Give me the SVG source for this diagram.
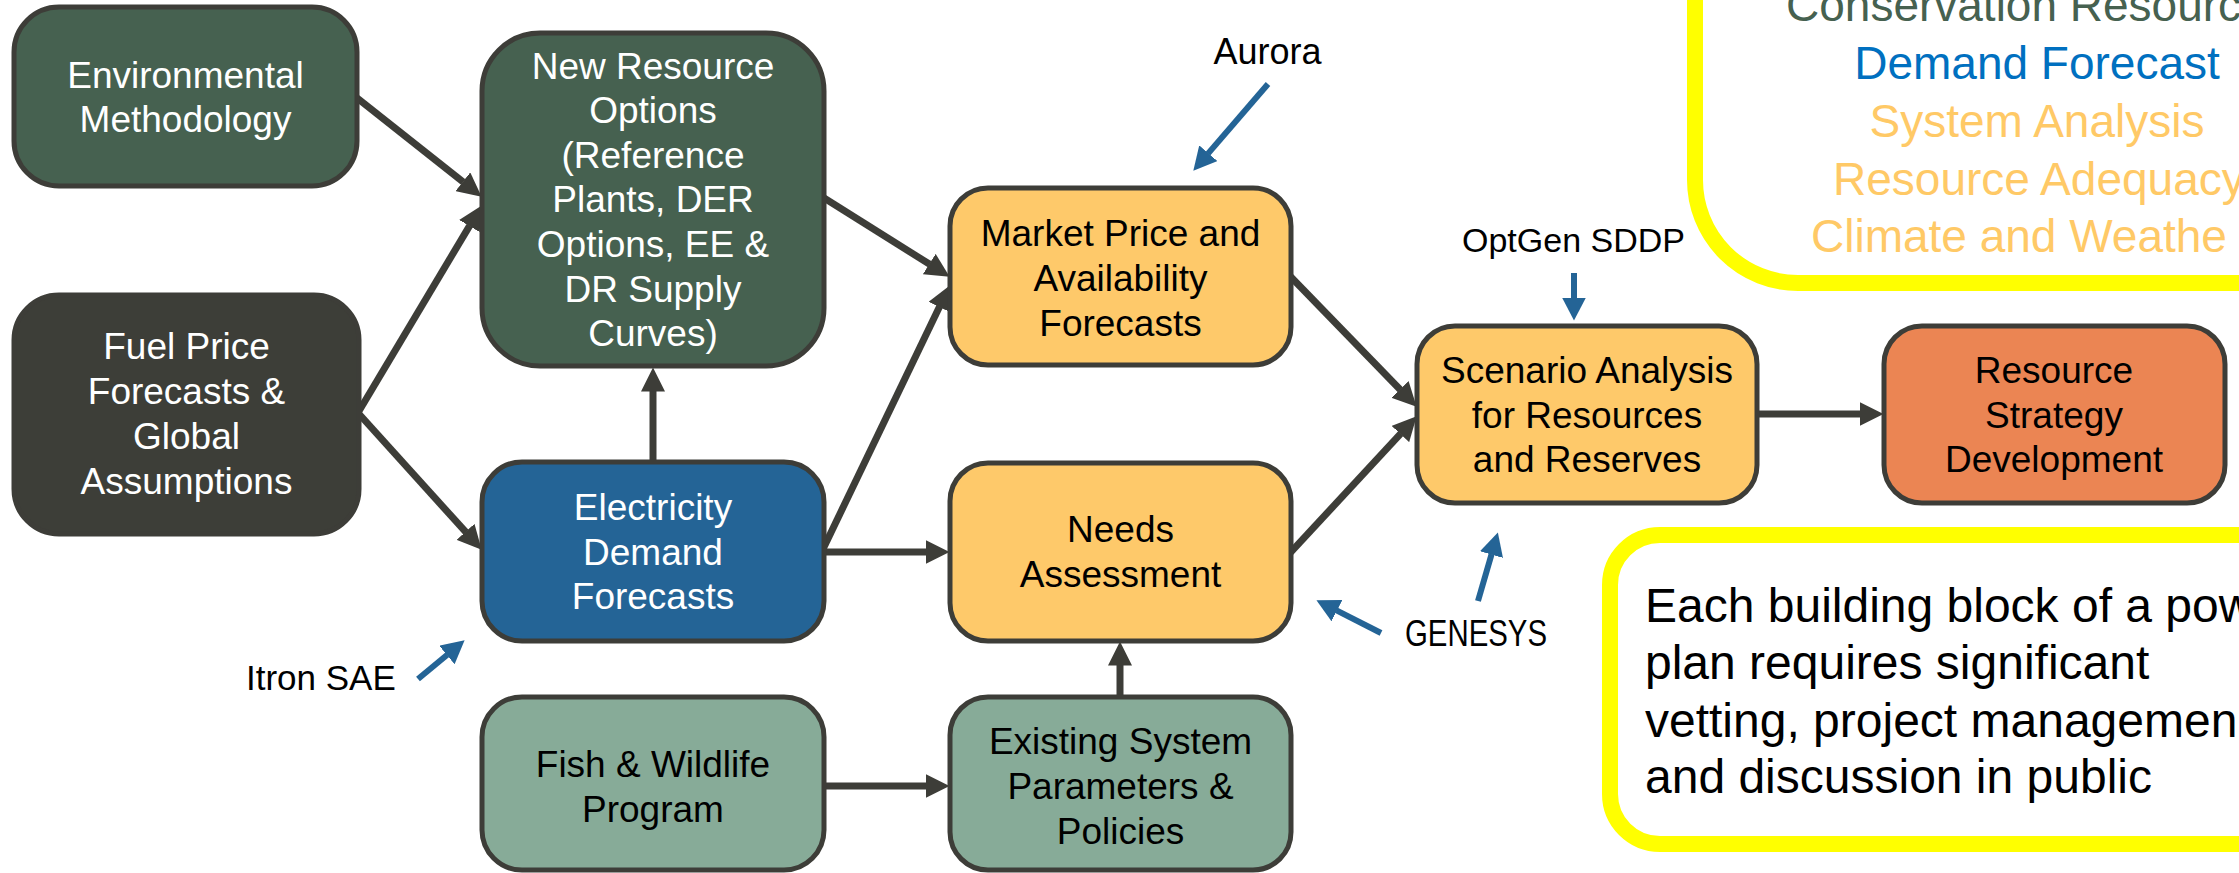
<svg xmlns="http://www.w3.org/2000/svg" width="2239" height="873" viewBox="0 0 2239 873">
<style>
.node rect{stroke:#3d3d38;stroke-width:5}
.t{font-family:'Liberation Sans',Arial,sans-serif;font-size:37px;text-anchor:middle}
.w{fill:#ffffff}
.k{fill:#000000}
.conn line{stroke:#3d3d38;stroke-width:7;marker-end:url(#ah)}
.tool line{stroke:#246496;stroke-width:6;marker-end:url(#bh)}
.lbl{font-family:'Liberation Sans',Arial,sans-serif;font-size:36px;fill:#000000}
.hl{fill:#ffffff;stroke:#ffff00;stroke-width:16}
.big{font-family:'Liberation Sans',Arial,sans-serif;font-size:46px}
.note{font-family:'Liberation Sans',Arial,sans-serif;font-size:48px;fill:#000000}
</style>
<defs>
<marker id="ah" markerUnits="userSpaceOnUse" viewBox="0 0 24 24" markerWidth="24" markerHeight="24" refX="0.5" refY="12" orient="auto">
<path d="M0,0 L24,12 L0,24 z" fill="#3d3d38"/>
</marker>
<marker id="bh" markerUnits="userSpaceOnUse" viewBox="0 0 23 24" markerWidth="23" markerHeight="24" refX="0.5" refY="12" orient="auto">
<path d="M0,0 L23,12 L0,24 z" fill="#246496"/>
</marker>
</defs>
<rect x="0" y="0" width="2239" height="873" fill="#ffffff"/>

<g id="legend-box">
<rect class="hl" x="1695" y="-400" width="700" height="683" rx="103"/>
<text class="big" x="1786" y="21" fill="#466150">Conservation Resourc</text>
<text class="big" x="2037" y="79" fill="#0070c0" text-anchor="middle">Demand Forecast</text>
<text class="big" x="2037" y="137" fill="#ffc966" text-anchor="middle">System Analysis</text>
<text class="big" x="1833" y="195" fill="#ffc966">Resource Adequacy</text>
<text class="big" x="1811" y="252" fill="#ffc966">Climate and Weathe</text>
</g>

<g id="note-box">
<rect class="hl" x="1610" y="535" width="700" height="309" rx="50"/>
<text class="note" x="1645" y="622">Each building block of a pow</text>
<text class="note" x="1645" y="679">plan requires significant</text>
<text class="note" x="1645" y="737">vetting, project managemen</text>
<text class="note" x="1645" y="793">and discussion in public</text>
</g>

<g id="connectors">
<g class="conn">
<line x1="352.3" y1="94.3" x2="463.2" y2="182.1"/>
<line x1="355.9" y1="416.2" x2="469.7" y2="225.6"/>
<line x1="355" y1="409.5" x2="465.9" y2="532.2"/>
<line x1="653" y1="468" x2="653" y2="391"/>
<line x1="818.9" y1="194.8" x2="929.7" y2="264.3"/>
<line x1="821.4" y1="552.4" x2="939.6" y2="306.6"/>
<line x1="818" y1="552" x2="926" y2="552"/>
<line x1="818" y1="786" x2="926" y2="786"/>
<line x1="1120" y1="703" x2="1120" y2="665"/>
<line x1="1286.8" y1="272.7" x2="1400.3" y2="389.8"/>
<line x1="1286.9" y1="556.4" x2="1400.7" y2="433.6"/>
<line x1="1751" y1="414" x2="1860" y2="414"/>
</g>
<g class="tool">
<line x1="1268" y1="84" x2="1208" y2="153.6"/>
<line x1="1574" y1="273" x2="1574" y2="298"/>
<line x1="418" y1="679" x2="447.3" y2="654.7"/>
<line x1="1381" y1="633" x2="1336.5" y2="610.4"/>
<line x1="1478" y1="601" x2="1491.6" y2="554.1"/>
</g>
</g>

<g id="env" class="node">
<rect x="14" y="7" width="343" height="179" rx="45" fill="#466150"/>
<text class="t w" x="185.5" y="87.5">Environmental</text>
<text class="t w" x="185.5" y="132">Methodology</text>
</g>
<g id="fuel" class="node">
<rect x="14" y="295" width="345" height="239" rx="45" fill="#3d3e38"/>
<text class="t w" x="186.5" y="359">Fuel Price</text>
<text class="t w" x="186.5" y="404">Forecasts &amp;</text>
<text class="t w" x="186.5" y="449">Global</text>
<text class="t w" x="186.5" y="494">Assumptions</text>
</g>
<g id="nro" class="node">
<rect x="482" y="33" width="342" height="333" rx="58" fill="#466150"/>
<text class="t w" x="653" y="78.6">New Resource</text>
<text class="t w" x="653" y="123.2">Options</text>
<text class="t w" x="653" y="167.8">(Reference</text>
<text class="t w" x="653" y="212.4">Plants, DER</text>
<text class="t w" x="653" y="257">Options, EE &amp;</text>
<text class="t w" x="653" y="301.6">DR Supply</text>
<text class="t w" x="653" y="346.2">Curves)</text>
</g>
<g id="elec" class="node">
<rect x="482" y="462" width="342" height="179" rx="40" fill="#246496"/>
<text class="t w" x="653" y="520">Electricity</text>
<text class="t w" x="653" y="565">Demand</text>
<text class="t w" x="653" y="609">Forecasts</text>
</g>
<g id="fish" class="node">
<rect x="482" y="697" width="342" height="173" rx="40" fill="#87ab98"/>
<text class="t k" x="653" y="777">Fish &amp; Wildlife</text>
<text class="t k" x="653" y="822">Program</text>
</g>
<g id="market" class="node">
<rect x="950" y="188" width="341" height="177" rx="38" fill="#fec96a"/>
<text class="t k" x="1120.5" y="246">Market Price and</text>
<text class="t k" x="1120.5" y="291">Availability</text>
<text class="t k" x="1120.5" y="336">Forecasts</text>
</g>
<g id="needs" class="node">
<rect x="950" y="463" width="341" height="178" rx="38" fill="#fec96a"/>
<text class="t k" x="1120.5" y="542">Needs</text>
<text class="t k" x="1120.5" y="587">Assessment</text>
</g>
<g id="existing" class="node">
<rect x="950" y="697" width="341" height="173" rx="38" fill="#87ab98"/>
<text class="t k" x="1120.5" y="754">Existing System</text>
<text class="t k" x="1120.5" y="799">Parameters &amp;</text>
<text class="t k" x="1120.5" y="844">Policies</text>
</g>
<g id="scenario" class="node">
<rect x="1417" y="326" width="340" height="177" rx="38" fill="#fec96a"/>
<text class="t k" x="1587" y="383">Scenario Analysis</text>
<text class="t k" x="1587" y="427.5">for Resources</text>
<text class="t k" x="1587" y="472">and Reserves</text>
</g>
<g id="strategy" class="node">
<rect x="1884" y="326" width="341" height="177" rx="38" fill="#eb8553"/>
<text class="t k" x="2054" y="383">Resource</text>
<text class="t k" x="2054" y="427.5">Strategy</text>
<text class="t k" x="2054" y="472">Development</text>
</g>

<g id="labels">
<text class="lbl" x="1267.5" y="64" text-anchor="middle">Aurora</text>
<text class="lbl" x="1573.5" y="252" text-anchor="middle" style="font-size:34px">OptGen SDDP</text>
<text class="lbl" x="246" y="690" style="font-size:35px">Itron SAE</text>
<text class="lbl" x="1405" y="646" textLength="142" lengthAdjust="spacingAndGlyphs" style="font-size:37px">GENESYS</text>
</g>
</svg>
